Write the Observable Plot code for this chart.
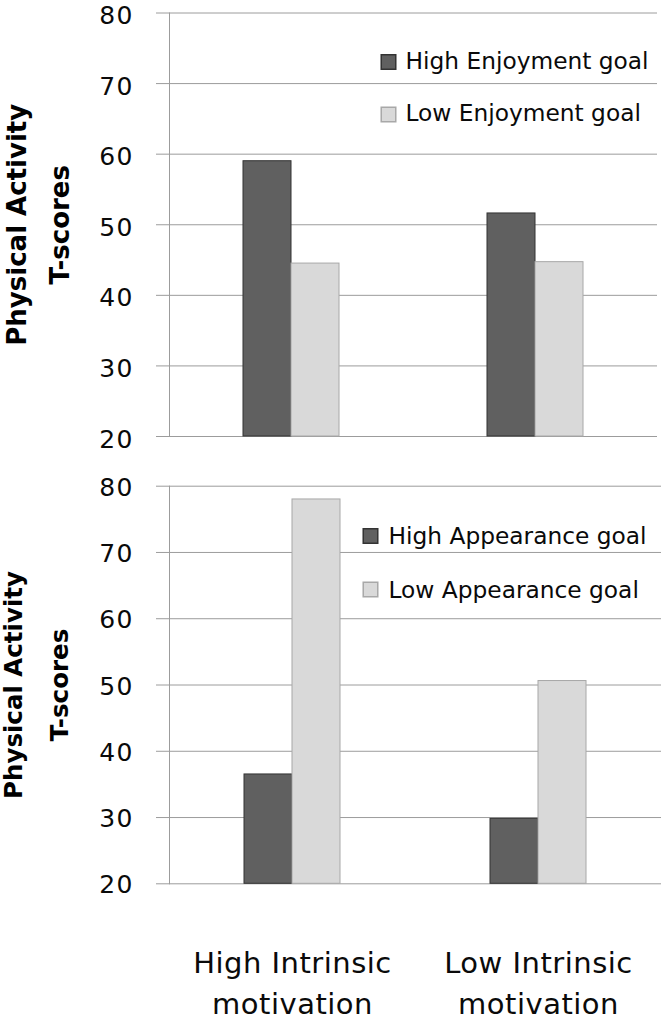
<!DOCTYPE html>
<html><head><meta charset="utf-8">
<script src="https://cdn.jsdelivr.net/npm/d3@7"></script>
<script src="https://cdn.jsdelivr.net/npm/@observablehq/plot@0.6"></script>
<style>
html,body{margin:0;padding:0;background:#fff;}
#chart svg{display:block;}
g[font-size="25"]{letter-spacing:1.5px;}
g[font-size="29"]{letter-spacing:0.5px;}
</style></head><body><div id="chart"></div>
<script>
// ---- data ----
const categories = ["High Intrinsic\nmotivation", "Low Intrinsic\nmotivation"];
const enjoymentSeries = ["High Enjoyment goal", "Low Enjoyment goal"];
const enjoymentHigh = [59.0, 51.6];
const enjoymentLow = [44.5, 44.7];
const appearanceSeries = ["High Appearance goal", "Low Appearance goal"];
const appearanceHigh = [36.5, 29.8];
const appearanceLow = [78.0, 50.6];
const yTicks = [20, 30, 40, 50, 60, 70, 80];
const yTitle = "Physical Activity\nT-scores";

// ---- styles ----
const darkFill = "#606060", darkStroke = "#333333";
const lightFill = "#d9d9d9", lightStroke = "#a8a8a8";
const gridColor = "#9c9c9c";
const textColor = "#0a0a0a";

function panel(cfg) {
  const {series, high, low} = cfg;
  const rows = categories.flatMap((c, i) => [
    {cat: c, series: series[0], value: high[i]},
    {cat: c, series: series[1], value: low[i]}
  ]);
  const firstCat = categories[0];
  const lastCat = categories[categories.length - 1];
  const marks = [
    Plot.gridY(yTicks, {stroke: gridColor, strokeOpacity: 1}),
    Plot.frame({anchor: "left", facetAnchor: "left", stroke: gridColor}),
    Plot.axisY(yTicks, {tickSize: 13, tickFormat: () => "", stroke: gridColor, label: null}),
    Plot.text(yTicks, {fx: () => firstCat, y: d => d, text: d => String(d), frameAnchor: "left", textAnchor: "end", dx: -35.5, dy: cfg.tickDy, fontSize: 25, fill: textColor}),
    Plot.barY(rows.filter(d => d.series === series[0]), {fx: "cat", x: "series", y1: yTicks[0], y2: "value", fill: darkFill, stroke: darkStroke, strokeWidth: 1}),
    Plot.barY(rows.filter(d => d.series === series[1]), {fx: "cat", x: "series", y1: yTicks[0], y2: "value", fill: lightFill, stroke: lightStroke, strokeWidth: 1}),
    // legend
    Plot.dot([series[0]], {fx: () => lastCat, frameAnchor: "top-left", dx: cfg.legSqDx, dy: cfg.legDotDy[0], symbol: "square", r: 8.2, fill: darkFill, stroke: darkStroke}),
    Plot.dot([series[1]], {fx: () => lastCat, frameAnchor: "top-left", dx: cfg.legSqDx, dy: cfg.legDotDy[1], symbol: "square", r: 8.2, fill: lightFill, stroke: lightStroke}),
    Plot.text([series[0]], {fx: () => lastCat, text: d => d, frameAnchor: "top-left", textAnchor: "start", lineAnchor: "top", dx: cfg.legTxDx, dy: cfg.legTxDy[0], fontSize: 23.3, fill: textColor}),
    Plot.text([series[1]], {fx: () => lastCat, text: d => d, frameAnchor: "top-left", textAnchor: "start", lineAnchor: "top", dx: cfg.legTxDx, dy: cfg.legTxDy[1], fontSize: 23.3, fill: textColor}),
    // y title
    Plot.text([yTitle], {fx: () => firstCat, text: d => d, frameAnchor: "left", rotate: -90, textAnchor: "middle", lineAnchor: "middle", lineHeight: cfg.titleLH, fontWeight: "bold", fontSize: cfg.titleSize, dx: cfg.titleDx, fill: "#000"})
  ];
  if (cfg.xLabels) {
    marks.push(Plot.text(categories, {fx: d => d, text: d => d, frameAnchor: "bottom", lineAnchor: "top", dy: 59.6, lineHeight: 1.414, fontSize: 29, fill: textColor}));
  }
  return Plot.plot({
    width: 662,
    height: cfg.height,
    marginLeft: 169,
    marginRight: cfg.marginRight,
    marginTop: cfg.marginTop,
    marginBottom: cfg.marginBottom,
    style: {fontFamily: "DejaVu Sans", background: "#fff", color: textColor},
    fx: {domain: categories, padding: 0, axis: null, label: null},
    x: {domain: series, paddingInner: 0, paddingOuter: cfg.po, axis: null},
    y: {domain: [yTicks[0], yTicks[yTicks.length - 1]]},
    marks
  });
}

const topPanel = panel({
  series: enjoymentSeries, high: enjoymentHigh, low: enjoymentLow,
  height: 460, marginTop: 12.5, marginBottom: 24, marginRight: 5, po: 1.49,
  legSqDx: -25, legTxDx: -8, legDotDy: [49, 101.5], legTxDy: [39.3, 91.5],
  titleSize: 26, titleLH: 1.65, titleDx: -135.3, tickDy: 3, xLabels: false
});
const bottomPanel = panel({
  series: appearanceSeries, high: appearanceHigh, low: appearanceLow,
  height: 560, marginTop: 25.7, marginBottom: 136.7, marginRight: 1, po: 1.536,
  legSqDx: -45, legTxDx: -27, legDotDy: [49.8, 103.3], legTxDy: [40.8, 94.8],
  titleSize: 24.5, titleLH: 1.9, titleDx: -139.4, tickDy: 1.5, xLabels: true
});
document.getElementById("chart").append(topPanel, bottomPanel);
</script></body></html>
